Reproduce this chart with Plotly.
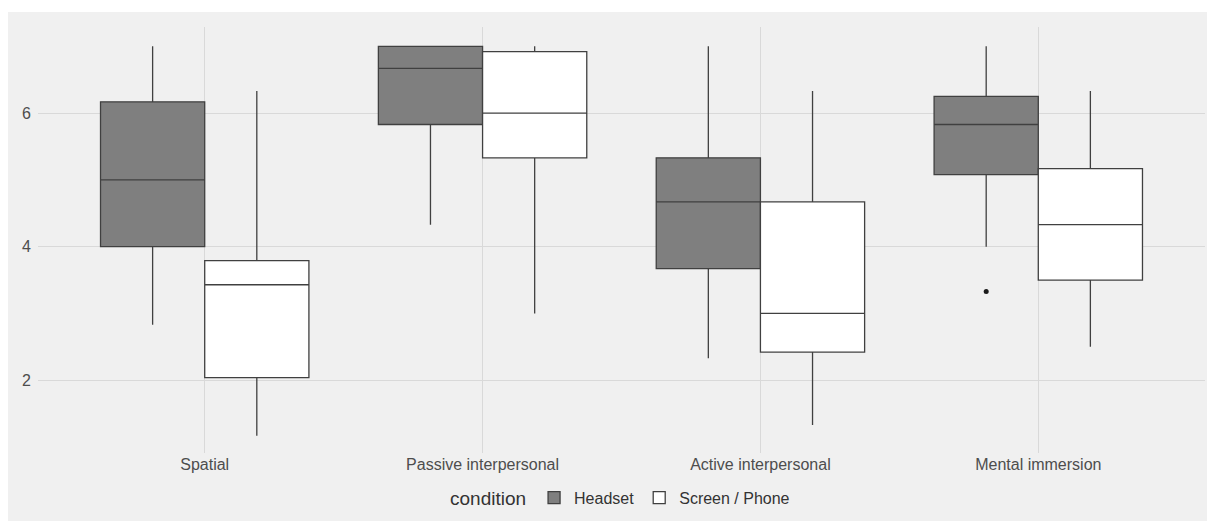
import plotly.graph_objects as go

categories = ["Spatial", "Passive interpersonal", "Active interpersonal", "Mental immersion"]

headset_lower = [2.83, 4.33, 2.33, 4.0]
headset_q1 = [4.0, 5.83, 3.67, 5.08]
headset_median = [5.0, 6.67, 4.67, 5.83]
headset_q3 = [6.17, 7.0, 5.33, 6.25]
headset_upper = [7.0, 7.0, 7.0, 7.0]
headset_outlier_cat = ["Mental immersion"]
headset_outlier_val = [3.33]

screen_lower = [1.17, 3.0, 1.33, 2.5]
screen_q1 = [2.04, 5.33, 2.42, 3.5]
screen_median = [3.43, 6.0, 3.0, 4.33]
screen_q3 = [3.79, 6.92, 4.67, 5.17]
screen_upper = [6.33, 7.0, 6.33, 6.33]

y_ticks = [2, 4, 6]

FONT = "Liberation Sans, Arial, sans-serif"
GAP = 0.25

fig = go.Figure()
fig.add_trace(go.Box(
    name="Headset", x=categories, offsetgroup="h",
    q1=headset_q1, median=headset_median, q3=headset_q3,
    lowerfence=headset_lower, upperfence=headset_upper,
    boxpoints=False, whiskerwidth=0,
    fillcolor="#7f7f7f", line=dict(color="#404040", width=1.3),
))
fig.add_trace(go.Box(
    name="Screen / Phone", x=categories, offsetgroup="s",
    q1=screen_q1, median=screen_median, q3=screen_q3,
    lowerfence=screen_lower, upperfence=screen_upper,
    boxpoints=False, whiskerwidth=0,
    fillcolor="#ffffff", line=dict(color="#404040", width=1.3),
))
fig.add_trace(go.Scatter(
    x=headset_outlier_cat, y=headset_outlier_val, mode="markers",
    offsetgroup="h", showlegend=False, hoverinfo="y",
    marker=dict(color="#1a1a1a", size=5),
))
fig.add_trace(go.Scatter(
    x=headset_outlier_cat, y=[None], mode="markers",
    offsetgroup="s", showlegend=False, hoverinfo="skip",
    marker=dict(color="#1a1a1a", size=5),
))

fig.update_layout(
    width=1215, height=525,
    margin=dict(l=30, r=18, t=19, b=80),
    paper_bgcolor="#ffffff", plot_bgcolor="#f0f0f0",
    boxmode="group", boxgap=GAP, boxgroupgap=0,
    scattermode="group", scattergap=GAP,
    font=dict(family=FONT, color="#4d4d4d", size=16),
    showlegend=True,
    legend=dict(
        orientation="h", x=0.5, xanchor="center", y=-0.106, yanchor="middle",
        title=dict(text="condition", font=dict(size=19, color="#333333"), side="left"),
        font=dict(size=16, color="#333333"),
        bgcolor="rgba(0,0,0,0)", itemwidth=30, tracegroupgap=0,
    ),
    shapes=[dict(
        type="rect", xref="paper", yref="paper",
        x0=-0.0257, x1=1.0069, y0=-0.1596, y1=1.0352,
        fillcolor="#f0f0f0", line=dict(width=0), layer="below",
    )],
)
fig.update_xaxes(
    showgrid=True, gridcolor="#d9d9d9", gridwidth=1,
    zeroline=False, showline=False, ticks="",
    range=[-0.6, 3.6],
    tickfont=dict(size=16, color="#4d4d4d"),
)
fig.update_yaxes(
    showgrid=True, gridcolor="#d9d9d9", gridwidth=1,
    zeroline=False, showline=False, ticks="",
    range=[0.91, 7.29], tickvals=y_ticks, ticklabelstandoff=6,
    tickfont=dict(size=16, color="#4d4d4d"),
)

fig.write_html("out.html")
